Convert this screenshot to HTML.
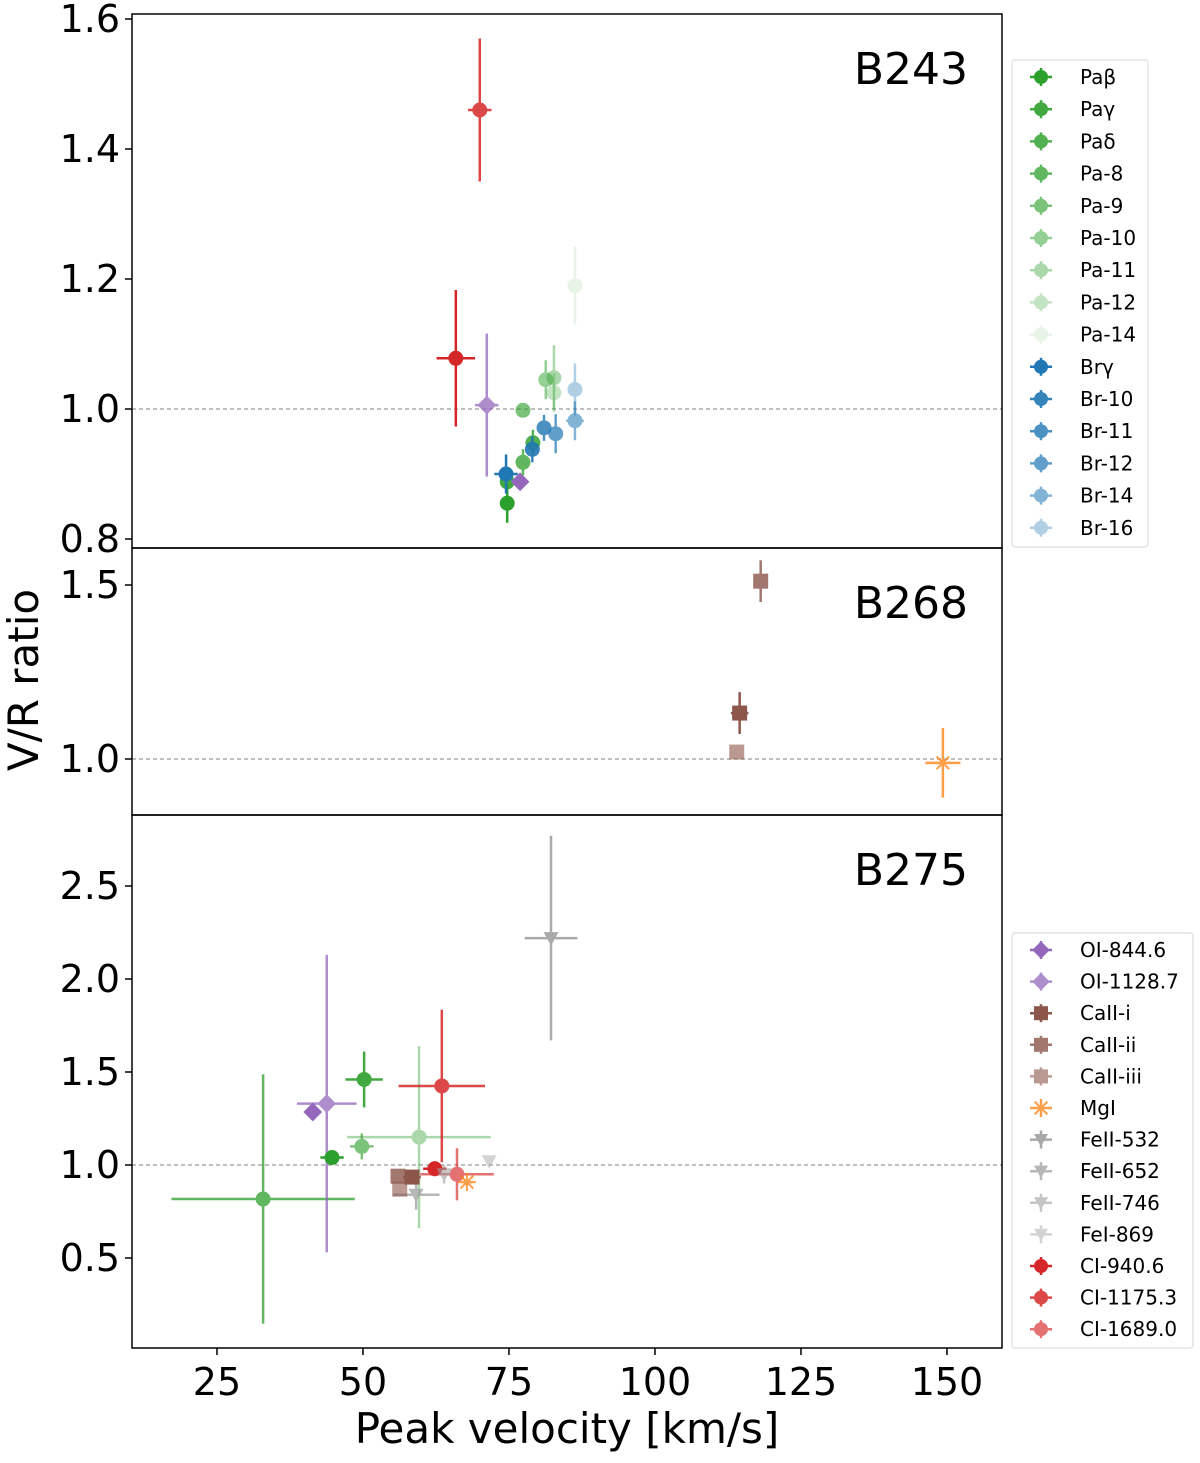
<!DOCTYPE html>
<html><head><meta charset="utf-8"><style>
body{margin:0;background:#fff;}
svg text{font-family:"DejaVu Sans","Liberation Sans",sans-serif;}
</style></head><body>
<svg id="chart" width="1200" height="1458" viewBox="0 0 1200 1458" xmlns="http://www.w3.org/2000/svg">
</svg>
<script>
// Panel B243
const p1Series=["CI-1175.3","CI-940.6","OI-1128.7","Paβ","Paγ","Brγ","OI-844.6","Pa-8","Paδ","Br-10","Pa-9","Br-11","Br-12","Pa-10","Pa-11","Pa-12","Pa-14","Br-14","Br-16"];
const p1X=[70.0,65.9,71.2,74.7,74.7,74.5,76.9,77.4,79.1,79.0,77.4,81.0,83.0,81.3,82.7,82.7,86.3,86.3,86.3];
const p1Y=[1.46,1.078,1.006,0.855,0.888,0.90,0.888,0.918,0.948,0.938,0.998,0.971,0.962,1.045,1.048,1.025,1.19,0.982,1.03];
const p1XErr=[2,3.3,2,0.5,0.5,2,0,1,1,1,1,1,1,1,1,1,0.5,1.5,1];
const p1YErr=[0.11,0.105,0.11,0.03,0.02,0.03,0,0.02,0.02,0.02,0.01,0.02,0.03,0.03,0.05,0.03,0.06,0.03,0.04];
// Panel B268
const p2Series=["CaII-ii","CaII-i","CaII-iii","MgI"];
const p2X=[118.1,114.5,114.0,149.3];
const p2Y=[1.511,1.132,1.02,0.989];
const p2XErr=[1,1.5,1,3];
const p2YErr=[0.06,0.06,0.02,0.1];
// Panel B275
const p3Series=["Pa-8","OI-844.6","OI-1128.7","Paγ","Paβ","Pa-9","Pa-11","CI-1175.3","CI-940.6","CI-1689.0","MgI","FeI-869","FeII-746","FeII-652","FeII-532","CaII-i","CaII-ii","CaII-iii"];
const p3X=[32.9,41.4,43.8,50.2,44.7,49.8,59.6,63.5,62.3,66.1,67.8,71.6,63.9,59.1,82.2,58.4,56.0,56.3];
const p3Y=[0.817,1.285,1.33,1.46,1.04,1.10,1.15,1.425,0.98,0.95,0.908,1.02,0.95,0.84,2.22,0.935,0.94,0.87];
const p3XErr=[15.7,0,5.1,3.2,2,2,12.3,7.4,2,6.3,1,0,1,4,4.5,1.5,1,1];
const p3YErr=[0.67,0,0.8,0.15,0.03,0.07,0.49,0.41,0.04,0.14,0,0,0.05,0.08,0.55,0.02,0.03,0.04];
const xTicks=[25,50,75,100,125,150];
const p1Ticks=[0.8,1.0,1.2,1.4,1.6];
const p2Ticks=[1.0,1.5];
const p3Ticks=[0.5,1.0,1.5,2.0,2.5];
const legend1=["Paβ","Paγ","Paδ","Pa-8","Pa-9","Pa-10","Pa-11","Pa-12","Pa-14","Brγ","Br-10","Br-11","Br-12","Br-14","Br-16"];
const legend2=["OI-844.6","OI-1128.7","CaII-i","CaII-ii","CaII-iii","MgI","FeII-532","FeII-652","FeII-746","FeI-869","CI-940.6","CI-1175.3","CI-1689.0"];

const STY={
"Paβ":["#2ca02c",1,"o"],"Paγ":["#2ca02c",0.9,"o"],"Paδ":["#2ca02c",0.82,"o"],"Pa-8":["#2ca02c",0.75,"o"],"Pa-9":["#2ca02c",0.62,"o"],"Pa-10":["#2ca02c",0.5,"o"],"Pa-11":["#2ca02c",0.4,"o"],"Pa-12":["#2ca02c",0.28,"o"],"Pa-14":["#2ca02c",0.1,"o"],
"Brγ":["#1f77b4",1,"o"],"Br-10":["#1f77b4",0.9,"o"],"Br-11":["#1f77b4",0.8,"o"],"Br-12":["#1f77b4",0.7,"o"],"Br-14":["#1f77b4",0.55,"o"],"Br-16":["#1f77b4",0.35,"o"],
"OI-844.6":["#9467bd",1,"D"],"OI-1128.7":["#9467bd",0.75,"D"],"CaII-i":["#8c564b",1,"s"],"CaII-ii":["#8c564b",0.8,"s"],"CaII-iii":["#8c564b",0.6,"s"],"MgI":["#ff7f0e",0.75,"*"],
"FeII-532":["#a0a0a0",0.9,"v"],"FeII-652":["#a0a0a0",0.75,"v"],"FeII-746":["#a0a0a0",0.6,"v"],"FeI-869":["#a0a0a0",0.45,"v"],
"CI-940.6":["#d62728",1,"o"],"CI-1175.3":["#d62728",0.85,"o"],"CI-1689.0":["#d62728",0.65,"o"]};

const NS="http://www.w3.org/2000/svg";
const svg=document.getElementById('chart');
function mk(tag,attrs,parent){const e=document.createElementNS(NS,tag);for(const k in attrs)e.setAttribute(k,attrs[k]);(parent||svg).appendChild(e);return e;}
const L=132,R=1002;
const xS=v=>L+(v-10.45)*5.84;
const panels=[
 {name:"B243",top:14,bot:548,y:v=>409-(v-1)*650,ticks:p1Ticks,fmt:v=>v.toFixed(1),s:p1Series,x:p1X,yv:p1Y,xe:p1XErr,ye:p1YErr,ly:409},
 {name:"B268",top:548,bot:815,y:v=>759-(v-1)*348,ticks:p2Ticks,fmt:v=>v.toFixed(1),s:p2Series,x:p2X,yv:p2Y,xe:p2XErr,ye:p2YErr,ly:759},
 {name:"B275",top:815,bot:1348,y:v=>1165-(v-1)*186,ticks:p3Ticks,fmt:v=>v.toFixed(1),s:p3Series,x:p3X,yv:p3Y,xe:p3XErr,ye:p3YErr,ly:1165}];

function marker(g,type,cx,cy,col,sz){
 if(type==="o")return mk('circle',{cx,cy,r:sz,fill:col},g);
 if(type==="D"){const d=sz*1.25;return mk('polygon',{points:`${cx},${cy-d} ${cx+d},${cy} ${cx},${cy+d} ${cx-d},${cy}`,fill:col},g);}
 if(type==="s")return mk('rect',{x:cx-sz,y:cy-sz,width:2*sz,height:2*sz,fill:col},g);
 if(type==="v")return mk('polygon',{points:`${cx-sz},${cy-sz*0.8} ${cx+sz},${cy-sz*0.8} ${cx},${cy+sz}`,fill:col},g);
 if(type==="*"){let d="";for(let i=0;i<4;i++){const a=i*Math.PI/4;d+=`M${cx-sz*Math.cos(a)},${cy-sz*Math.sin(a)}L${cx+sz*Math.cos(a)},${cy+sz*Math.sin(a)}`;}return mk('path',{d,stroke:col,'stroke-width':2,fill:'none'},g);}
}

panels.forEach((p,pi)=>{
 const g=mk('g',{});
 
 
 const ref=mk('line',{x1:L,x2:R,y1:p.ly,y2:p.ly,stroke:'#999','stroke-width':1.2,'stroke-dasharray':'4,3'},g);
 
 
 p.ticks.forEach(t=>{const yy=p.y(t);
  mk('line',{x1:L-7,x2:L,y1:yy,y2:yy,stroke:'#000','stroke-width':1.5},g);
  const tx=mk('text',{x:L-12,y:yy+13,'text-anchor':'end','font-size':38},g);tx.textContent=p.fmt(t);
  
  });
 for(let i=0;i<p.s.length;i++){
  const st=STY[p.s[i]];const cx=xS(p.x[i]),cy=p.y(p.yv[i]);
  const pg=mk('g',{opacity:st[1]},g);
  
  
  if(p.xe[i]>0)mk('line',{x1:xS(p.x[i]-p.xe[i]),x2:xS(p.x[i]+p.xe[i]),y1:cy,y2:cy,stroke:st[0],'stroke-width':2.5},pg);
  if(p.ye[i]>0)mk('line',{x1:cx,x2:cx,y1:p.y(p.yv[i]-p.ye[i]),y2:p.y(p.yv[i]+p.ye[i]),stroke:st[0],'stroke-width':2.5},pg);
  marker(pg,st[2],cx,cy,st[0],st[2]==="*"?9:7.5);
 }
 const lab=mk('text',{x:968,y:p.top+70,'text-anchor':'end','font-size':44},g);lab.textContent=p.name;
 
 
 const fr=mk('rect',{x:L,y:p.top,width:R-L,height:p.bot-p.top,fill:'none',stroke:'#000','stroke-width':1.5},g);
 
 
});
xTicks.forEach(t=>{const xx=xS(t);
 mk('line',{x1:xx,x2:xx,y1:1348,y2:1355,stroke:'#000','stroke-width':1.5});
 const tx=mk('text',{x:xx,y:1395,'text-anchor':'middle','font-size':38});tx.textContent=t;
 
 });
const xl=mk('text',{x:567,y:1443,'text-anchor':'middle','font-size':42});xl.textContent="Peak velocity [km/s]";


const yl=mk('text',{x:0,y:0,'text-anchor':'middle','font-size':42,transform:'translate(38,680) rotate(-90)'});yl.textContent="V/R ratio";



function drawLegend(items,x,y,w,h,step,first){
 const g=mk('g',{});
 
 
 mk('rect',{x,y,width:w,height:h,rx:3,fill:'#fff',stroke:'#ddd','stroke-width':1.2},g);
 items.forEach((n,i)=>{const st=STY[n];const cy=first+i*step;
  const eg=mk('g',{},g);
  
  
  const mg=mk('g',{opacity:st[1]},eg);
  mk('line',{x1:1030,x2:1052,y1:cy,y2:cy,stroke:st[0],'stroke-width':2.5},mg);
  mk('line',{x1:1041,x2:1041,y1:cy-9,y2:cy+9,stroke:st[0],'stroke-width':2.5},mg);
  marker(mg,st[2],1041,cy,st[0],st[2]==="*"?9:7);
  const t=mk('text',{x:1080,y:cy+7,'font-size':20},eg);t.textContent=n;});
}
drawLegend(legend1,1012,60,136,487,32.2,77);
drawLegend(legend2,1012,933,181,415,31.6,950);
</script>
</body></html>
